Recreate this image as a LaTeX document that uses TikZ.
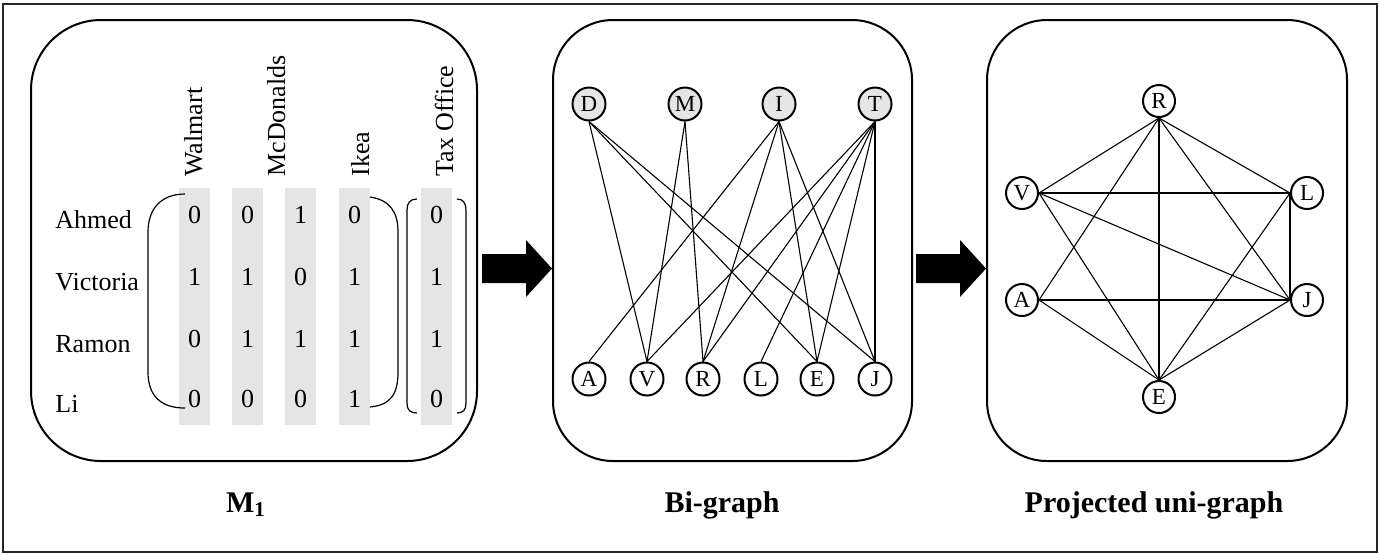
\documentclass[tikz,border=0pt]{standalone}
\usepackage{fontspec}
\setmainfont{Liberation Serif}
\begin{document}
\begin{tikzpicture}[x=0.5pt,y=-0.5pt,
  panel/.style={draw, line width=1pt, inner sep=0pt},
  mtxt/.style={font=\fontsize{13}{15}\selectfont, inner sep=0pt},
  hdr/.style={mtxt, rotate=90, anchor=base west},
  strip/.style={fill=black!10, draw=none},
  paren/.style={line width=0.6pt},
  bnode/.style={circle, draw, line width=1pt, minimum size=16.5pt, inner sep=0pt, font=\fontsize{11.5}{13}\selectfont},
  tnode/.style={bnode, fill=black!10},
  unode/.style={bnode, minimum size=16pt},
  edge/.style={line width=0.55pt},
  blockarrow/.style={fill=black},
  caption/.style={font=\bfseries\fontsize{15}{18}\selectfont, anchor=base, inner sep=0pt}]

\useasboundingbox (0,0) rectangle (1379,554);
\draw[black!85, line width=1pt] (3,4) rectangle (1377,552);

% panels
\node[panel, rounded corners=35pt, minimum width=223pt, minimum height=220.5pt] (p1) at (254,240.5) {};
\node[panel, rounded corners=30pt, minimum width=179.5pt, minimum height=220.5pt] (p2) at (732.5,240.5) {};
\node[panel, rounded corners=30pt, minimum width=180pt, minimum height=220.5pt] (p3) at (1167,240.5) {};

% block arrows
\fill[blockarrow] (482,254) -- (526,254) -- (526,240) -- (p2.west |- 0,268.5) -- (526,297) -- (526,283) -- (482,283) -- cycle;
\fill[blockarrow] (916,254) -- (960,254) -- (960,240) -- (p3.west |- 0,268.5) -- (960,297) -- (960,283) -- (916,283) -- cycle;

% matrix strips
\fill[strip] (179,188) rectangle (210,425);
\fill[strip] (232,188) rectangle (263,425);
\fill[strip] (285,188) rectangle (316,425);
\fill[strip] (339,188) rectangle (370,425);
\fill[strip] (421,188) rectangle (452,425);

% column headers
\node[hdr] (hw) at (202,177) {Walmart};
\node[hdr] (hm) at (285,177) {McDonalds};
\node[hdr] (hi) at (369,177) {Ikea};
\node[hdr] (ht) at (453,177) {Tax Office};

% row labels
\node[mtxt, anchor=base west] (ahmed) at (55,228) {Ahmed};
\node[mtxt, anchor=base west] (victoria) at (55,290) {Victoria};
\node[mtxt, anchor=base west] (ramon) at (55,352) {Ramon};
\node[mtxt, anchor=base west] (li) at (55,412) {Li};

% digits
\foreach \r/\y/\a/\b/\c/\d/\e in {1/223/0/0/1/0/0, 2/285/1/1/0/1/1, 3/347/0/1/1/1/1, 4/407/0/0/0/1/0}{
  \node[mtxt, anchor=base] (m\r a) at (194.5,\y) {\a};
  \node[mtxt, anchor=base] (m\r b) at (247.5,\y) {\b};
  \node[mtxt, anchor=base] (m\r c) at (300.5,\y) {\c};
  \node[mtxt, anchor=base] (m\r d) at (354.5,\y) {\d};
  \node[mtxt, anchor=base] (m\r e) at (436.5,\y) {\e};
}

% parentheses
\draw[paren] (185,194) .. controls (160,194) and (148,210) .. (148,232) -- (148,372) .. controls (148,395) and (160,408) .. (185,408);
\draw[paren] (370,197) .. controls (390,200) and (398,212) .. (398,232) -- (398,372) .. controls (398,395) and (390,405) .. (370,407);
\draw[paren] (417,199) .. controls (410,199) and (407,203) .. (407,210) -- (407,403) .. controls (407,410) and (410,413) .. (417,413);
\draw[paren] (457,199) .. controls (463,199) and (466,203) .. (466,210) -- (466,403) .. controls (466,410) and (463,413) .. (457,413);

% bi-graph
\node[tnode] (bD) at (589,104) {D};
\node[tnode] (bM) at (685,104) {M};
\node[tnode] (bI) at (779,104) {I};
\node[tnode] (bT) at (875,104) {T};
\node[bnode] (bA) at (589,379) {A};
\node[bnode] (bV) at (647,379) {V};
\node[bnode] (bR) at (703,379) {R};
\node[bnode] (bL) at (761,379) {L};
\node[bnode] (bE) at (817,379) {E};
\node[bnode] (bJ) at (875,379) {J};
\foreach \s/\t in {D/V, D/E, D/J, M/V, M/R, I/A, I/R, I/E, I/J, T/V, T/R, T/L, T/E, T/J}
  \draw[edge] (b\s.south) -- (b\t.north);

% projected uni-graph
\node[unode] (uR) at (1159,101) {R};
\node[unode] (uV) at (1022,193) {V};
\node[unode] (uL) at (1307,193) {L};
\node[unode] (uA) at (1022,300) {A};
\node[unode] (uJ) at (1307,300) {J};
\node[unode] (uE) at (1159,397) {E};
\draw[edge] (uR.south) -- (uV.east);
\draw[edge] (uR.south) -- (uA.east);
\draw[edge] (uR.south) -- (uE.north);
\draw[edge] (uR.south) -- (uL.west);
\draw[edge] (uR.south) -- (uJ.west);
\draw[edge] (uV.east) -- (uL.west);
\draw[edge] (uV.east) -- (uJ.west);
\draw[edge] (uV.east) -- (uE.north);
\draw[edge] (uA.east) -- (uJ.west);
\draw[edge] (uA.east) -- (uE.north);
\draw[edge] (uL.west) -- (uJ.west);
\draw[edge] (uL.west) -- (uE.north);
\draw[edge] (uJ.west) -- (uE.north);

% captions
\node[caption] (c1) at (246,512) {M\textsubscript{1}};
\node[caption] (c2) at (722,512) {Bi-graph};
\node[caption] (c3) at (1154,512) {Projected uni-graph};
\end{tikzpicture}
\end{document}
